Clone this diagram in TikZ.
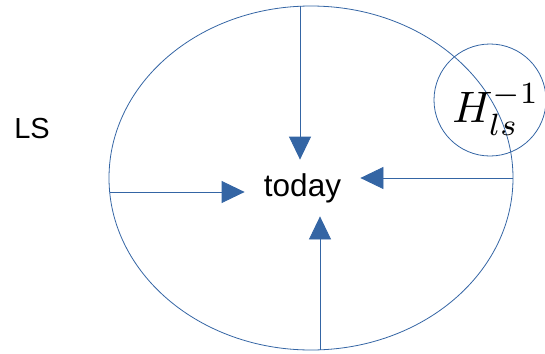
\documentclass[tikz,border=0pt]{standalone}
\usepackage{fontspec}
\setmainfont{Liberation Sans}
\usetikzlibrary{arrows.meta, positioning, calc}

\begin{document}
\begin{tikzpicture}[x=1pt, y=-1pt, line width=0.8pt,
  every node/.style={align=center},
  arrow/.style={draw=lsblue, -{Triangle[length=23pt, width=22pt]}, fill=lsblue}]
\definecolor{lsblue}{HTML}{3465A4}
\useasboundingbox (0,0) rectangle (545,353);
\draw[lsblue] (311,178) ellipse [x radius=202, y radius=172];
\draw[lsblue] (490,100) circle [radius=56];
\node (ls) at (32,129) {\fontsize{29}{33}\selectfont LS};
\node (hinv) [scale=4.4, inner sep=0pt] at (496,110) {$H_{ls}^{-1}$};
\node (today) [minimum width=115pt, minimum height=56pt, inner sep=0pt] at (302.5,188) {\fontsize{31.5}{36}\selectfont \raisebox{-3pt}{today}};
\coordinate (ptop) at (300,6);
\coordinate (pleft) at (110,192);
\coordinate (pright) at (513,178);
\coordinate (pbot) at (320,350);
\draw[arrow] (ptop) -- (ptop |- today.north);
\draw[arrow] (pleft) -- (pleft -| today.west);
\draw[arrow] (pright) -- (pright -| today.east);
\draw[arrow] (pbot) -- (pbot |- today.south);
\end{tikzpicture}
\end{document}
